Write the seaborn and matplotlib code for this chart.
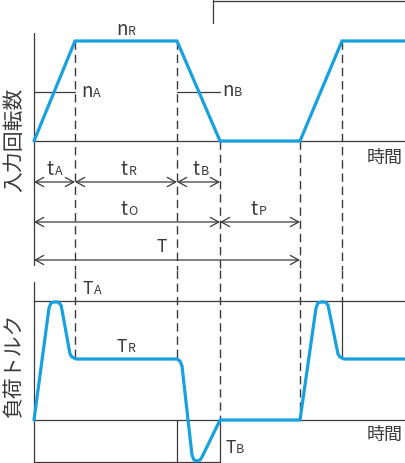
import matplotlib
matplotlib.use("Agg")
import matplotlib.pyplot as plt
import seaborn as sns

sns.set_style("white")
plt.rcParams['font.family'] = ['Noto Sans CJK JP', 'DejaVu Sans']

# event times (same time units on both charts)
t_acc = 41      # end of acceleration
t_run = 143     # end of constant speed
t_brk = 186     # end of braking (= tO)
t_cyc = 266     # end of pause (= T)
t_acc2 = 308    # end of next acceleration
t_end = 372

# input speed
speed_t = [0, t_acc, t_run, t_brk, t_cyc, t_acc2, t_end]
speed_v = [0, 100, 100, 0, 0, 100, 100]
n_ab = 49       # nA / nB level

# load torque
torque_t = [0, 15, 17, 20, 24, 27, 28, 36, 38, 42, 143, 146, 148, 158, 160, 163,
            166, 168, 186, 266, 282, 284, 287, 291, 294, 295, 304, 306, 310, 372]
torque_v = [0, 112, 117, 118, 118, 115, 110, 66, 63, 61, 61, 59, 54, -35, -40, -41,
            -40, -37, 0, 0, 112, 117, 118, 118, 115, 110, 66, 63, 61, 61]
T_A = 119
T_R = 61

BLUE = '#17a1df'
INK = '#3a3a3a'
DASH = dict(color=INK, lw=1.0, dashes=(6, 3.5))
SOLID = dict(color=INK, lw=0.9)

fig = plt.figure(figsize=(4.06, 4.63), dpi=100)
ax1 = fig.add_axes([0, 193 / 463, 1, 270 / 463])
ax2 = fig.add_axes([0, 0, 1, 193 / 463])
ax1.set_xlim(-34, 372)
ax1.set_ylim(-129, 141)
ax2.set_xlim(-34, 372)
ax2.set_ylim(-43, 150)
for ax in (ax1, ax2):
    ax.axis('off')


def sub_label(ax, x, y, main, sub, size=13.5, subsize=9):
    ax.text(x, y, main, ha='right', va='baseline', fontsize=size, color=INK)
    ax.text(x + 0.5, y, sub, ha='left', va='baseline', fontsize=subsize, color=INK)


def dim_arrow(ax, x0, x1, y):
    ax.annotate('', xy=(x1, y), xytext=(x0, y),
                arrowprops=dict(arrowstyle='<->,head_length=0.55,head_width=0.3',
                                color=INK, lw=0.9, shrinkA=0, shrinkB=0,
                                mutation_scale=11))


# ---- top chart: input speed ----
ax1.plot([0, 0], [108, -124], **SOLID)
ax1.plot([0, t_end], [0, 0], **SOLID)
ax1.plot([0, t_acc], [n_ab, n_ab], **SOLID)
ax1.plot([t_run, t_brk], [n_ab, n_ab], **SOLID)
ax1.plot([179, 179], [118, 141], **SOLID)
ax1.plot([179, t_end], [140.5, 140.5], **SOLID)
for t, top in [(t_acc, 100), (t_run, 100), (t_brk, 0), (t_cyc, 0), (t_acc2, 100)]:
    ax1.plot([t, t], [top, -129], **DASH)

sns.lineplot(x=speed_t, y=speed_v, sort=False, estimator=None, ax=ax1,
             color=BLUE, lw=2.3, solid_joinstyle='miter')

sub_label(ax1, 93.5, 106, 'n', 'R')
sub_label(ax1, 58.5, 44, 'n', 'A')
sub_label(ax1, 199.5, 45, 'n', 'B')
ax1.text(351, -17, '時間', ha='center', va='center', fontsize=13, color=INK)

# dimension lines
dim_arrow(ax1, 0, t_acc, -41)
dim_arrow(ax1, t_acc, t_run, -41)
dim_arrow(ax1, t_run, t_brk, -41)
dim_arrow(ax1, 0, t_brk, -81)
dim_arrow(ax1, t_brk, t_cyc, -81)
dim_arrow(ax1, 0, t_cyc, -119)
sub_label(ax1, 20, -34, 't', 'A')
sub_label(ax1, 94, -34, 't', 'R')
sub_label(ax1, 166, -34, 't', 'B')
sub_label(ax1, 94, -74, 't', 'O')
sub_label(ax1, 224, -74, 't', 'P')
ax1.text(128, -111, 'T', ha='center', va='baseline', fontsize=12.5, color=INK)

# ---- bottom chart: load torque ----
ax2.plot([0, 0], [138, -42], **SOLID)
ax2.plot([0, t_end], [0, 0], **SOLID)
ax2.plot([0, t_end], [T_A, T_A], **SOLID)
ax2.plot([0, t_brk], [-42, -42], **SOLID)
ax2.plot([t_run, t_run], [0, -43], **SOLID)
ax2.plot([t_brk, t_brk], [0, -43], **SOLID)
ax2.plot([t_acc2, t_acc2], [T_A, T_R], **SOLID)
ax2.plot([t_acc, t_acc], [150, T_R], **DASH)
ax2.plot([t_run, t_run], [150, T_R], **DASH)
ax2.plot([t_brk, t_brk], [150, 0], **DASH)
ax2.plot([t_cyc, t_cyc], [150, 0], **DASH)
ax2.plot([t_acc2, t_acc2], [150, T_A], **DASH)

sns.lineplot(x=torque_t, y=torque_v, sort=False, estimator=None, ax=ax2,
             color=BLUE, lw=2.3, solid_joinstyle='round')

sub_label(ax2, 59, 126, 'T', 'A', size=12.5)
sub_label(ax2, 93, 68, 'T', 'R', size=12.5)
sub_label(ax2, 201.5, -33, 'T', 'B', size=12.5)
ax2.text(351, -15, '時間', ha='center', va='center', fontsize=13, color=INK)

fig.text(14 / 406, 1 - 140 / 463, '入力回転数', rotation=90, ha='center', va='center',
         fontsize=15, color=INK)
fig.text(14 / 406, 1 - 365 / 463, '負荷トルク', rotation=90, ha='center', va='center',
         fontsize=15, color=INK)

fig.savefig('out.png', dpi=100)
